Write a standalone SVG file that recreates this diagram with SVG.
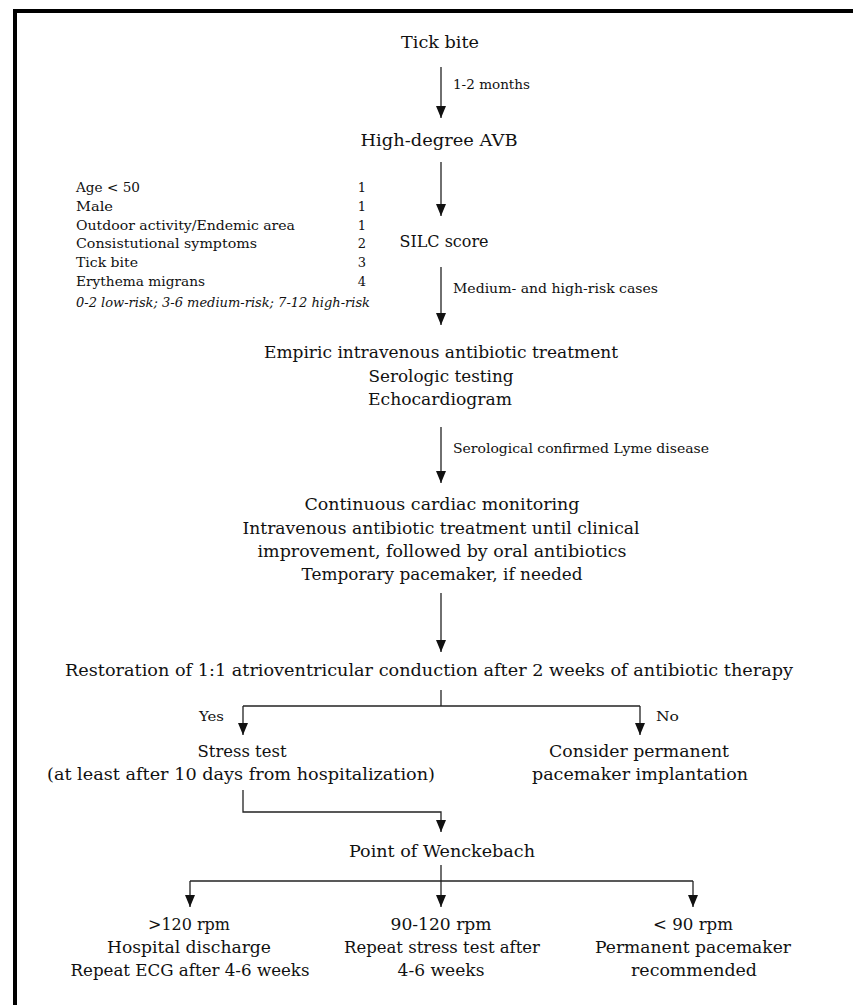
<svg xmlns="http://www.w3.org/2000/svg" width="853" height="1005" viewBox="0 0 853 1005">
<style>
text{font-family:"DejaVu Serif","Liberation Serif",serif;fill:#111;}
.m{font-size:17px;text-anchor:middle;}
.s{font-size:13px;}
.sm{font-size:13px;text-anchor:middle;}
.i{font-style:italic;}
.c{stroke:#222;stroke-width:1.3;fill:none;}
</style>
<defs>
<marker id="ah" viewBox="0 0 12 10" refX="12" refY="5" markerWidth="12" markerHeight="10" markerUnits="userSpaceOnUse" orient="auto">
<path d="M0,0 L12,5 L0,10 Z" fill="#111"/>
</marker>
</defs>
<rect width="853" height="1005" fill="#fff"/>
<g id="frame">
<rect x="13" y="9" width="840" height="4" fill="#000"/>
<rect x="13" y="9" width="4" height="996" fill="#000"/>
</g>
<g id="connectors">
<line class="c" x1="441" y1="67" x2="441" y2="118" marker-end="url(#ah)"/>
<line class="c" x1="441" y1="162" x2="441" y2="216" marker-end="url(#ah)"/>
<line class="c" x1="441" y1="267" x2="441" y2="325" marker-end="url(#ah)"/>
<line class="c" x1="441" y1="427" x2="441" y2="483" marker-end="url(#ah)"/>
<line class="c" x1="441" y1="593" x2="441" y2="652" marker-end="url(#ah)"/>
<polyline class="c" points="441,690 441,706"/>
<polyline class="c" points="243,706 640,706"/>
<line class="c" x1="243" y1="706" x2="243" y2="735" marker-end="url(#ah)"/>
<line class="c" x1="640" y1="706" x2="640" y2="735" marker-end="url(#ah)"/>
<polyline class="c" points="243,790 243,812 441,812 441,832" marker-end="url(#ah)"/>
<polyline class="c" points="441,865 441,881"/>
<polyline class="c" points="190,881 693,881"/>
<line class="c" x1="190" y1="881" x2="190" y2="907" marker-end="url(#ah)"/>
<line class="c" x1="441" y1="881" x2="441" y2="907" marker-end="url(#ah)"/>
<line class="c" x1="693" y1="881" x2="693" y2="907" marker-end="url(#ah)"/>
<text class="s" x="453" y="89" textLength="77" lengthAdjust="spacingAndGlyphs">1-2 months</text>
<text class="s" x="453" y="293" textLength="205" lengthAdjust="spacingAndGlyphs">Medium- and high-risk cases</text>
<text class="s" x="453" y="453" textLength="256" lengthAdjust="spacingAndGlyphs">Serological confirmed Lyme disease</text>
<text class="s" x="199" y="721" textLength="25" lengthAdjust="spacingAndGlyphs">Yes</text>
<text class="s" x="656" y="721" textLength="23" lengthAdjust="spacingAndGlyphs">No</text>
</g>
<g id="tick-bite"><text class="m" x="440" y="48" textLength="78" lengthAdjust="spacingAndGlyphs">Tick bite</text></g>
<g id="avb"><text class="m" x="439" y="146" textLength="157" lengthAdjust="spacingAndGlyphs">High-degree AVB</text></g>
<g id="silc"><text class="m" x="444" y="247" textLength="89" lengthAdjust="spacingAndGlyphs">SILC score</text></g>
<g id="silc-table">
<text class="s" x="76" y="192" textLength="64" lengthAdjust="spacingAndGlyphs">Age &lt; 50</text>
<text class="s" x="76" y="211" textLength="37" lengthAdjust="spacingAndGlyphs">Male</text>
<text class="s" x="76" y="230" textLength="219" lengthAdjust="spacingAndGlyphs">Outdoor activity/Endemic area</text>
<text class="s" x="76" y="248" textLength="181" lengthAdjust="spacingAndGlyphs">Consistutional symptoms</text>
<text class="s" x="76" y="267" textLength="62" lengthAdjust="spacingAndGlyphs">Tick bite</text>
<text class="s" x="76" y="286" textLength="129" lengthAdjust="spacingAndGlyphs">Erythema migrans</text>
<text class="sm" x="362" y="192">1</text>
<text class="sm" x="362" y="211">1</text>
<text class="sm" x="362" y="230">1</text>
<text class="sm" x="362" y="248">2</text>
<text class="sm" x="362" y="267">3</text>
<text class="sm" x="362" y="286">4</text>
<text class="s i" x="76" y="307" textLength="294" lengthAdjust="spacingAndGlyphs">0-2 low-risk;  3-6 medium-risk; 7-12 high-risk</text>
</g>
<g id="empiric">
<text class="m" x="441" y="358" textLength="354" lengthAdjust="spacingAndGlyphs">Empiric intravenous antibiotic treatment</text>
<text class="m" x="441" y="382" textLength="145" lengthAdjust="spacingAndGlyphs">Serologic testing</text>
<text class="m" x="440" y="405" textLength="144" lengthAdjust="spacingAndGlyphs">Echocardiogram</text>
</g>
<g id="monitoring">
<text class="m" x="442" y="510" textLength="275" lengthAdjust="spacingAndGlyphs">Continuous cardiac monitoring</text>
<text class="m" x="441" y="534" textLength="397" lengthAdjust="spacingAndGlyphs">Intravenous antibiotic treatment until clinical</text>
<text class="m" x="442" y="557" textLength="369" lengthAdjust="spacingAndGlyphs">improvement, followed by oral antibiotics</text>
<text class="m" x="442" y="580" textLength="281" lengthAdjust="spacingAndGlyphs">Temporary pacemaker, if needed</text>
</g>
<g id="restoration"><text class="m" x="429" y="676" textLength="728" lengthAdjust="spacingAndGlyphs">Restoration of 1:1 atrioventricular conduction after 2 weeks of antibiotic therapy</text></g>
<g id="stress-test">
<text class="m" x="242" y="757" textLength="89" lengthAdjust="spacingAndGlyphs">Stress test</text>
<text class="m" x="241" y="780" textLength="388" lengthAdjust="spacingAndGlyphs">(at least after 10 days from hospitalization)</text>
</g>
<g id="permanent">
<text class="m" x="639" y="757" textLength="180" lengthAdjust="spacingAndGlyphs">Consider permanent</text>
<text class="m" x="640" y="780" textLength="216" lengthAdjust="spacingAndGlyphs">pacemaker implantation</text>
</g>
<g id="wenckebach"><text class="m" x="442" y="857" textLength="186" lengthAdjust="spacingAndGlyphs">Point of Wenckebach</text></g>
<g id="high-rate">
<text class="m" x="189" y="930" textLength="82" lengthAdjust="spacingAndGlyphs">&gt;120 rpm</text>
<text class="m" x="189" y="953" textLength="164" lengthAdjust="spacingAndGlyphs">Hospital discharge</text>
<text class="m" x="190" y="976" textLength="239" lengthAdjust="spacingAndGlyphs">Repeat ECG  after 4-6 weeks</text>
</g>
<g id="mid-rate">
<text class="m" x="441" y="930" textLength="101" lengthAdjust="spacingAndGlyphs">90-120 rpm</text>
<text class="m" x="442" y="953" textLength="196" lengthAdjust="spacingAndGlyphs">Repeat stress test after</text>
<text class="m" x="441" y="976" textLength="87" lengthAdjust="spacingAndGlyphs">4-6 weeks</text>
</g>
<g id="low-rate">
<text class="m" x="693" y="930" textLength="80" lengthAdjust="spacingAndGlyphs">&lt; 90 rpm</text>
<text class="m" x="693" y="953" textLength="196" lengthAdjust="spacingAndGlyphs">Permanent pacemaker</text>
<text class="m" x="694" y="976" textLength="126" lengthAdjust="spacingAndGlyphs">recommended</text>
</g>
</svg>
